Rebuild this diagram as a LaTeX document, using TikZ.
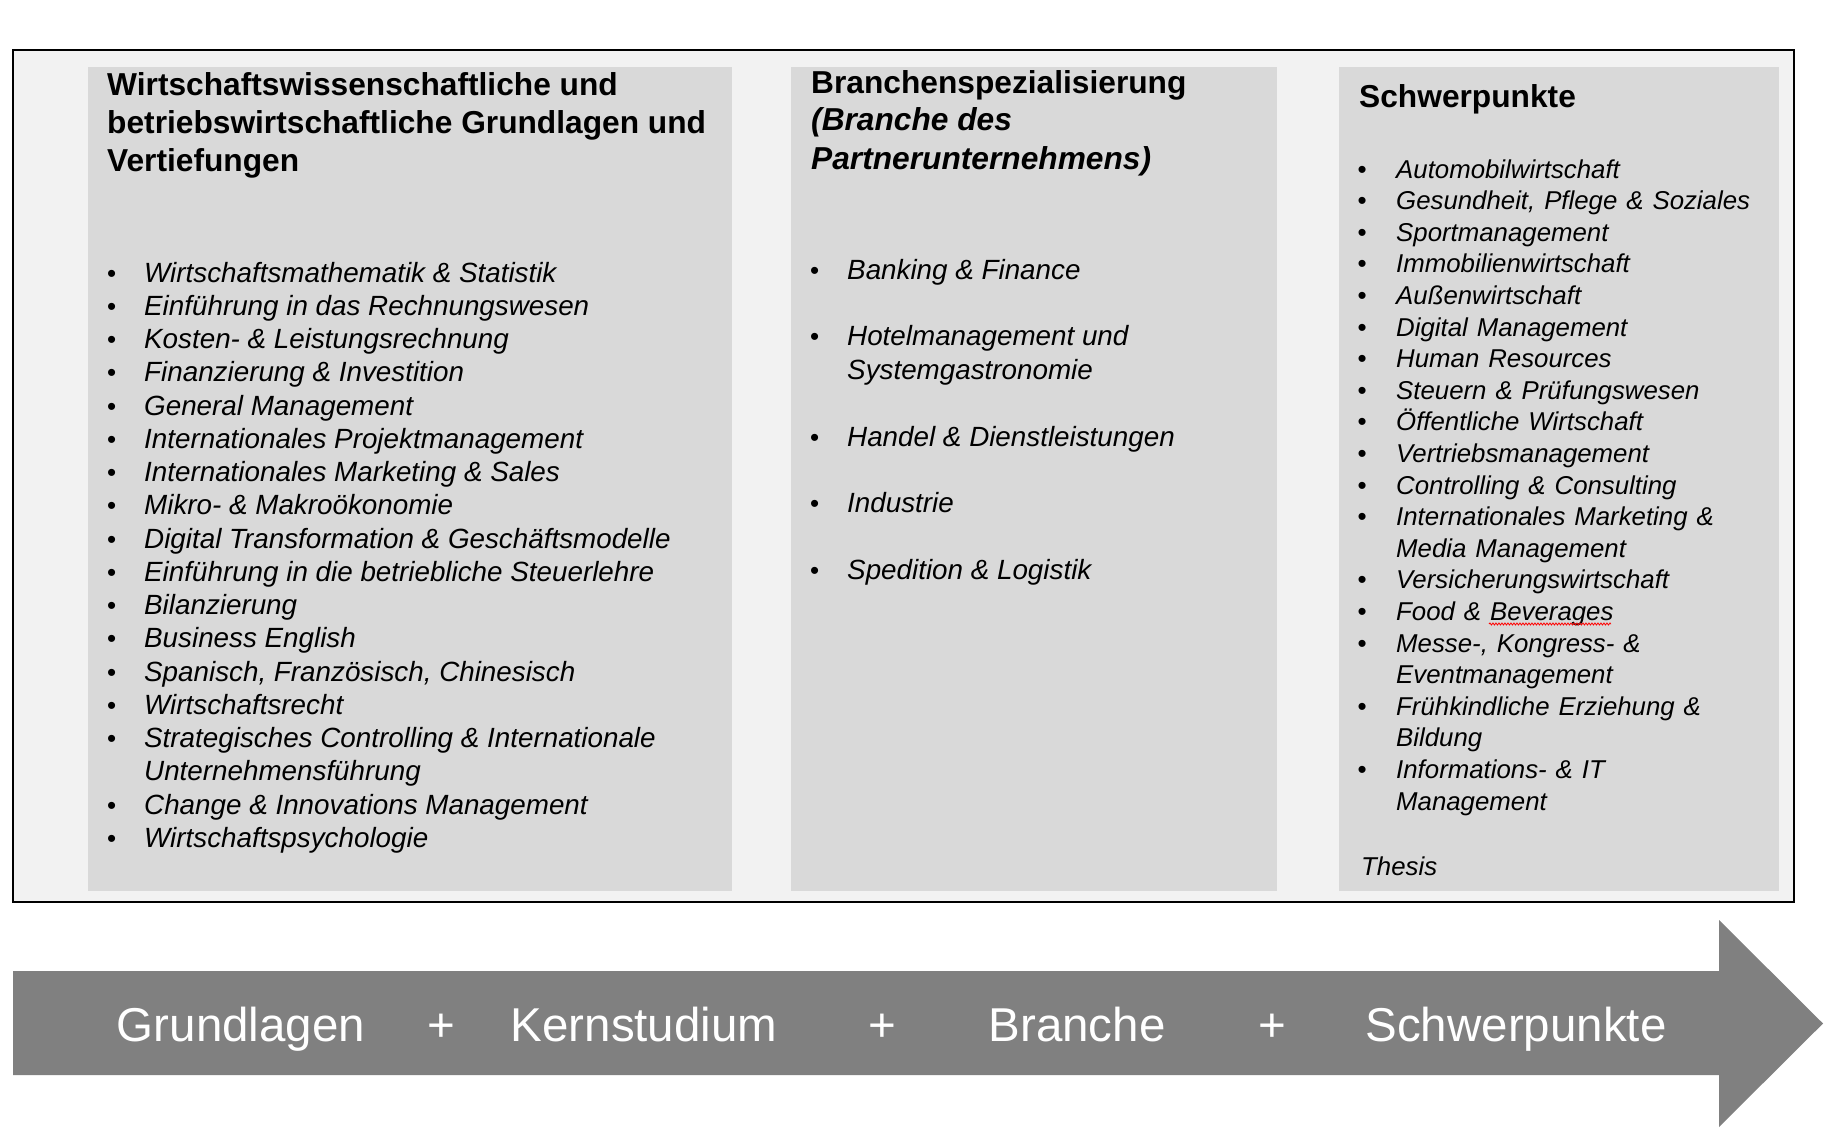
\documentclass[tikz,border=0pt]{standalone}
\usepackage{fontspec}
\setmainfont{Liberation Sans}
\newfontfamily\widefont[WordSpace=1.25]{Liberation Sans}
\usetikzlibrary{decorations.pathmorphing}
\definecolor{outerbg}{RGB}{242,242,242}
\definecolor{panelbg}{RGB}{217,217,217}
\definecolor{arrowgray}{RGB}{128,128,128}

\begin{document}
\begin{tikzpicture}[x=1pt, y=-1pt,
    outerbox/.style = {draw=black, line width=1.4pt, fill=outerbg},
    panel/.style = {fill=panelbg, draw=none},
    heading/.style = {anchor=base west, inner sep=0pt, font=\fontsize{31.7}{38}\selectfont\bfseries},
    itemL/.style = {anchor=base west, inner sep=0pt, font=\fontsize{27.8}{33}\selectfont\itshape},
    itemR/.style = {anchor=base west, inner sep=0pt, font=\widefont\fontsize{25.8}{31}\selectfont\itshape},
    bul/.style = {anchor=base west, inner sep=0pt, font=\fontsize{26}{31}\selectfont},
    steplabel/.style = {anchor=base, inner sep=0pt, text=white, font=\fontsize{47.5}{57}\selectfont},
    spell/.style = {red, line width=0.8pt, decorate, decoration={snake, amplitude=1pt, segment length=3pt}},
  ]
    \fill[white] (0,0) rectangle (1830,1145);
    \useasboundingbox (0,0) rectangle (1830,1145);

    % Frame and the three columns
    \draw[outerbox] (13,50) rectangle (1794,902);
    \fill[panel] (88,67) rectangle (732,891);
    \fill[panel] (791,67) rectangle (1277,891);
    \fill[panel] (1339,67) rectangle (1779,891);

    % Column 1: Grundlagen
    \node[heading] (gtitle1) at (107,96)    {Wirtschaftswissenschaftliche und};
    \node[heading] (gtitle2) at (107,133.5) {betriebswirtschaftliche Grundlagen und};
    \node[heading] (gtitle3) at (107,171)   {Vertiefungen};
    \foreach \b/\t [count=\i] in {
        1/Wirtschaftsmathematik \& Statistik,
        1/Einführung in das Rechnungswesen,
        1/Kosten- \& Leistungsrechnung,
        1/Finanzierung \& Investition,
        1/General Management,
        1/Internationales Projektmanagement,
        1/Internationales Marketing \& Sales,
        1/Mikro- \& Makroökonomie,
        1/Digital Transformation \& Geschäftsmodelle,
        1/Einführung in die betriebliche Steuerlehre,
        1/Bilanzierung,
        1/Business English,
        1/{Spanisch, Französisch, Chinesisch},
        1/Wirtschaftsrecht,
        1/Strategisches Controlling \& Internationale,
        0/Unternehmensführung,
        1/Change \& Innovations Management,
        1/Wirtschaftspsychologie} {
      \node[itemL] (g\i) at (144,{282+(\i-1)*33.25}) {\t};
      \ifnum\b=1 \node[bul] (gb\i) at (107,{282+(\i-1)*33.25}) {\textbullet};\fi
    }

    % Column 2: Branche
    \node[heading] (btitle1) at (811,94)    {Branchenspezialisierung};
    \node[heading] (btitle2) at (811,131)   {\itshape (Branche des};
    \node[heading] (btitle3) at (811,169)   {\itshape Partnerunternehmens)};
    \foreach \b/\y/\t [count=\i] in {
        1/279/Banking \& Finance,
        1/345.6/Hotelmanagement und,
        0/379.5/Systemgastronomie,
        1/446/Handel \& Dienstleistungen,
        1/512.5/Industrie,
        1/579/Spedition \& Logistik} {
      \node[itemL] (b\i) at (847,\y) {\t};
      \ifnum\b=1 \node[bul] (bb\i) at (810,\y) {\textbullet};\fi
    }

    % Column 3: Schwerpunkte
    \node[heading] (stitle) at (1359,107.5) {Schwerpunkte};
    \foreach \b/\t [count=\i] in {
        1/Automobilwirtschaft,
        1/{Gesundheit, Pflege \& Soziales},
        1/Sportmanagement,
        1/Immobilienwirtschaft,
        1/Außenwirtschaft,
        1/Digital Management,
        1/Human Resources,
        1/Steuern \& Prüfungswesen,
        1/Öffentliche Wirtschaft,
        1/Vertriebsmanagement,
        1/Controlling \& Consulting,
        1/Internationales Marketing \&,
        0/Media Management,
        1/Versicherungswirtschaft,
        1/Food \& Beverages,
        1/{Messe-, Kongress- \&},
        0/Eventmanagement,
        1/Frühkindliche Erziehung \&,
        0/Bildung,
        1/Informations- \& IT,
        0/Management} {
      \node[itemR] (s\i) at (1396,{178+(\i-1)*31.6}) {\t};
      \ifnum\b=1 \node[bul] (sb\i) at (1357.5,{178+(\i-1)*31.6}) {\textbullet};\fi
    }
    \node[itemR] (thesis) at (1361,875) {Thesis};
    \draw[spell] (1489,624) -- (1611,624);

    % Progress arrow
    \fill[arrowgray] (13,971) -- (1719,971) -- (1719,920) -- (1823,1023.5)
      -- (1719,1127) -- (1719,1075) -- (13,1075) -- cycle;
    \node[steplabel] (grund)  at (241,1041)  {Grundlagen};
    \node[steplabel] (plus1)  at (441,1041)  {+};
    \node[steplabel] (kern)   at (644,1041)  {Kernstudium};
    \node[steplabel] (plus2)  at (882,1041)  {+};
    \node[steplabel] (branch) at (1077,1041) {Branche};
    \node[steplabel] (plus3)  at (1272,1041) {+};
    \node[steplabel] (schwer) at (1516,1041) {Schwerpunkte};
\end{tikzpicture}
\end{document}
